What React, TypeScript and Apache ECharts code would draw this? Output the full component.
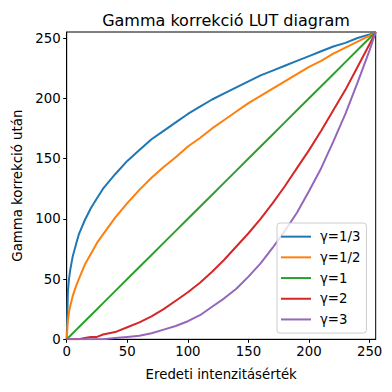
import React, { useEffect, useRef } from "react";
import * as echarts from "echarts";

const xValues = [0, 1, 2, 3, 5, 8, 10, 15, 20, 25, 30, 40, 50, 60, 70, 80, 90, 100, 110, 120, 130, 140, 150, 160, 170, 180, 190, 200, 210, 220, 230, 240, 250, 255];
const gamma13 = [0, 40, 51, 58, 69, 80, 87, 99, 109, 117, 125, 137, 148, 157, 166, 173, 180, 187, 193, 199, 204, 209, 214, 219, 223, 227, 231, 235, 239, 243, 246, 250, 253, 255];
const gamma12 = [0, 16, 23, 28, 36, 45, 50, 62, 71, 80, 87, 101, 113, 124, 134, 143, 151, 160, 167, 175, 182, 189, 196, 202, 208, 214, 220, 226, 231, 237, 242, 247, 252, 255];
const gamma1 = [0, 1, 2, 3, 5, 8, 10, 15, 20, 25, 30, 40, 50, 60, 70, 80, 90, 100, 110, 120, 130, 140, 150, 160, 170, 180, 190, 200, 210, 220, 230, 240, 250, 255];
const gamma2 = [0, 0, 0, 0, 0, 0, 0, 1, 2, 2, 4, 6, 10, 14, 19, 25, 32, 39, 47, 56, 66, 77, 88, 100, 113, 127, 142, 157, 173, 190, 207, 226, 245, 255];
const gamma3 = [0, 0, 0, 0, 0, 0, 0, 0, 0, 0, 0, 1, 2, 3, 5, 8, 11, 15, 20, 27, 34, 42, 52, 63, 76, 90, 105, 123, 142, 164, 187, 213, 240, 255];

const seriesNames = ["γ=1/3", "γ=1/2", "γ=1", "γ=2", "γ=3"];
const seriesData = [gamma13, gamma12, gamma1, gamma2, gamma3];
const colors = ["#1f77b4", "#ff7f0e", "#2ca02c", "#d62728", "#9467bd"];
const xTicks = [0, 50, 100, 150, 200, 250];
const yTicks = [0, 50, 100, 150, 200, 250];

const font = "DejaVu Sans";

export default function App() {
  const ref = useRef<HTMLDivElement>(null);
  useEffect(() => {
    if (!ref.current) return;
    const chart = echarts.init(ref.current, null, { renderer: "svg" });
    chart.setOption({
      animation: false,
      backgroundColor: "#ffffff",
      title: {
        text: "Gamma korrekció LUT diagram",
        left: 221,
        top: 7,
        textAlign: "center",
        textStyle: { fontFamily: font, fontSize: 16, fontWeight: "normal", color: "#000" },
      },
      grid: {
        left: 66.7,
        right: 16.3,
        top: 32,
        bottom: 52.7,
        show: true,
        borderColor: "#000",
        borderWidth: 1,
        backgroundColor: "transparent",
      },
      legend: {
        orient: "vertical",
        left: 277,
        top: 223,
        padding: [7, 6, 7, 4],
        itemGap: 7.4,
        itemWidth: 30,
        itemHeight: 2,
        icon: "rect",
        backgroundColor: "rgba(255,255,255,0.8)",
        borderColor: "#cccccc",
        borderWidth: 1,
        borderRadius: 3,
        data: seriesNames,
        textStyle: { fontFamily: font, fontSize: 13.3, color: "#000", lineHeight: 13.3, padding: [0, 0, 0, 4] },
      },
      xAxis: {
        type: "value",
        min: 0,
        max: 255,
        interval: 50,
        name: "Eredeti intenzitásérték",
        nameLocation: "middle",
        nameGap: 29,
        nameTextStyle: { fontFamily: font, fontSize: 13.3, color: "#000" },
        axisLine: { show: true, onZero: false, lineStyle: { color: "#000", width: 1 } },
        axisTick: { show: true, length: 3.5, lineStyle: { color: "#000" }, customValues: xTicks },
        axisLabel: { fontFamily: font, fontSize: 13.3, color: "#000", margin: 6, customValues: xTicks },
        splitLine: { show: false },
      },
      yAxis: {
        type: "value",
        min: 0,
        max: 255,
        interval: 50,
        name: "Gamma korrekció után",
        nameLocation: "middle",
        nameGap: 40,
        nameTextStyle: { fontFamily: font, fontSize: 13.3, color: "#000" },
        axisLine: { show: true, onZero: false, lineStyle: { color: "#000", width: 1 } },
        axisTick: { show: true, length: 3.5, lineStyle: { color: "#000" }, customValues: yTicks },
        axisLabel: { fontFamily: font, fontSize: 13.3, color: "#000", margin: 6, customValues: yTicks },
        splitLine: { show: false },
      },
      series: seriesNames.map((name, i) => ({
        name,
        type: "line",
        showSymbol: false,
        symbol: "none",
        color: colors[i],
        lineStyle: { color: colors[i], width: 2 },
        data: xValues.map((x, j) => [x, seriesData[i][j]]),
        clip: true,
      })),
    });
    return () => chart.dispose();
  }, []);
  return <div ref={ref} style={{ position: "fixed", left: 0, top: 0, width: 392, height: 392 }} />;
}
